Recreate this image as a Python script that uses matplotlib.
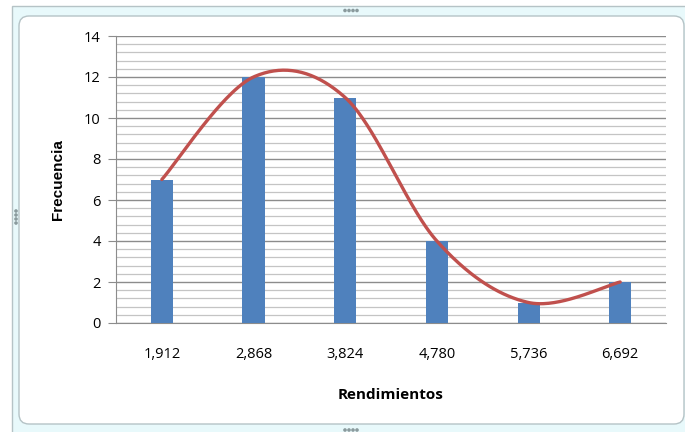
import matplotlib.pyplot as plt
import numpy as np
from matplotlib import patches
from matplotlib.ticker import MultipleLocator

# datos del histograma
categorias = ["1,912", "2,868", "3,824", "4,780", "5,736", "6,692"]
frecuencia = [7, 12, 11, 4, 1, 2]

AZUL = "#4f81bd"
ROJO = "#c0504d"


def curva_suave(x, y, n=60):
    """Curva suavizada tipo Catmull-Rom (como la linea suavizada de Excel)"""
    x = np.asarray(x, dtype=float)
    y = np.asarray(y, dtype=float)
    xp = np.concatenate([[x[0]], x, [x[-1]]])
    yp = np.concatenate([[y[0]], y, [y[-1]]])
    xs, ys = [], []
    t = np.linspace(0, 1, n)
    for i in range(1, len(xp) - 2):
        p0, p1, p2, p3 = yp[i - 1], yp[i], yp[i + 1], yp[i + 2]
        q0, q1, q2, q3 = xp[i - 1], xp[i], xp[i + 1], xp[i + 2]
        m1y, m2y = (p2 - p0) / 2, (p3 - p1) / 2
        m1x, m2x = (q2 - q0) / 2, (q3 - q1) / 2
        h00 = 2 * t**3 - 3 * t**2 + 1
        h10 = t**3 - 2 * t**2 + t
        h01 = -2 * t**3 + 3 * t**2
        h11 = t**3 - t**2
        xs.append(h00 * q1 + h10 * m1x + h01 * q2 + h11 * m2x)
        ys.append(h00 * p1 + h10 * m1y + h01 * p2 + h11 * m2y)
    return np.concatenate(xs), np.concatenate(ys)


fig = plt.figure(figsize=(6.85, 4.32), dpi=100)

# marco del area del grafico
fondo = fig.add_axes([0, 0, 1, 1], zorder=0)
fondo.set_xlim(0, 685)
fondo.set_ylim(432, 0)
fondo.axis("off")
fondo.add_patch(patches.Rectangle((12, 6), 700, 440, facecolor="#e8f9fb", edgecolor="#b5c3c6", lw=1.0))
fondo.add_patch(patches.FancyBboxPatch((19, 16), 665, 408, boxstyle="round,pad=0,rounding_size=10",
                                       facecolor="white", edgecolor="#b5c3c6", lw=1.0))
for k in range(4):
    fondo.add_patch(patches.Circle((345 + k * 4, 10.5), 1.1, color="#8a9a9d"))
    fondo.add_patch(patches.Circle((345 + k * 4, 430), 1.1, color="#8a9a9d"))
    fondo.add_patch(patches.Circle((16, 211 + k * 4), 1.1, color="#8a9a9d"))

ax = fig.add_axes([116 / 685, 1 - 323 / 432, 550 / 685, 287 / 432], zorder=1)
ax.patch.set_alpha(0)

x = np.arange(len(categorias))
ax.bar(x, frecuencia, width=0.24, color=AZUL, zorder=3)
xs, ys = curva_suave(x, frecuencia)
ax.plot(xs, ys, color=ROJO, lw=2.4, solid_capstyle="round", zorder=4)

ax.set_xlim(-0.5, len(categorias) - 0.5)
ax.set_ylim(0, 14)
ax.yaxis.set_major_locator(MultipleLocator(2))
ax.yaxis.set_minor_locator(MultipleLocator(0.4))
ax.grid(which="major", axis="y", color="#8c8c8c", lw=1.0, zorder=1)
ax.grid(which="minor", axis="y", color="#c4c4c4", lw=0.9, zorder=1)

for lado in ["top", "right"]:
    ax.spines[lado].set_visible(False)
ax.spines["left"].set_color("#8c8c8c")
ax.spines["bottom"].set_color("#8c8c8c")

ax.set_xticks(x)
ax.set_xticklabels(categorias, fontfamily="Open Sans", fontsize=10.5)
ax.tick_params(axis="x", length=0, pad=17)
ax.tick_params(axis="y", which="major", length=6, color="#8c8c8c", labelsize=10.5, pad=5)
ax.tick_params(axis="y", which="minor", length=0)
for lbl in ax.get_yticklabels():
    lbl.set_fontfamily("Open Sans")

ax.set_xlabel("Rendimientos", fontfamily="Open Sans", fontweight="bold", fontsize=11, labelpad=19)
ax.set_ylabel("Frecuencia", fontfamily="Liberation Sans", fontweight="bold", fontsize=11, labelpad=14)

fig.savefig("out.png", dpi=100)
